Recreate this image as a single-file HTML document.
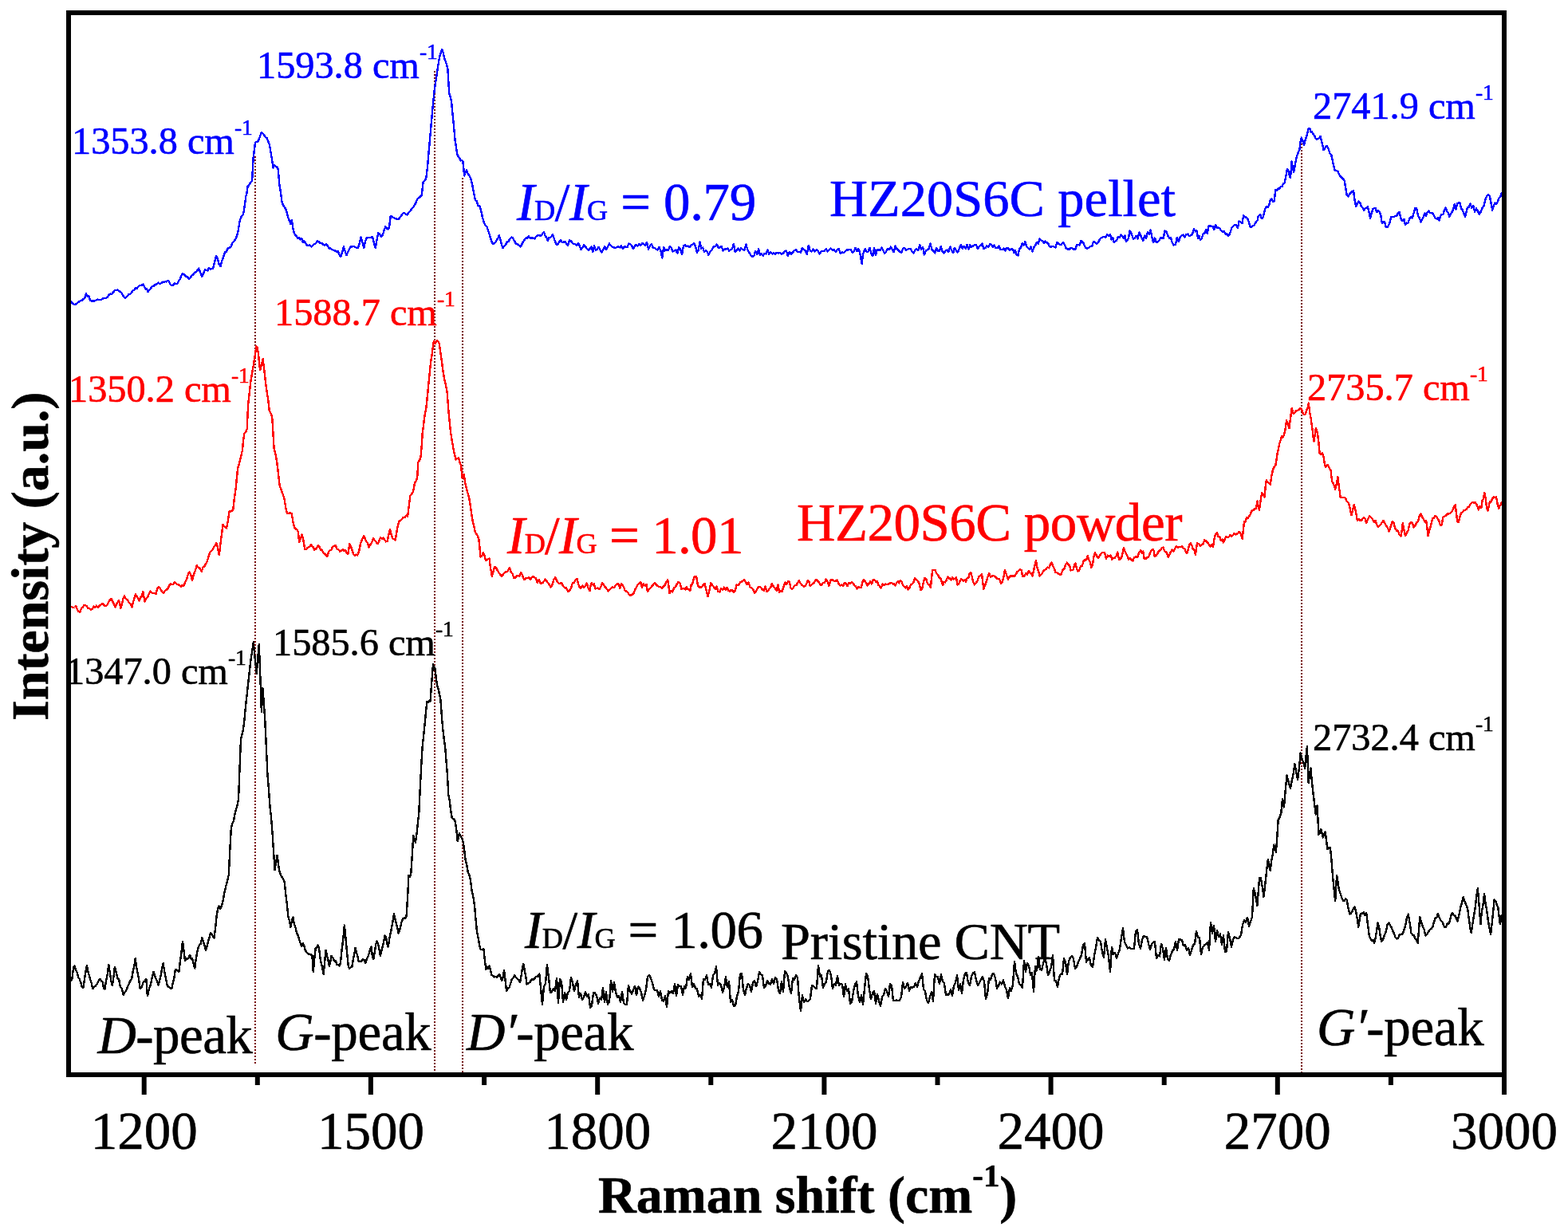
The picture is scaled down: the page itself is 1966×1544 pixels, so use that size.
<!DOCTYPE html>
<html><head><meta charset="utf-8"><title>Raman spectra</title>
<style>html,body{margin:0;padding:0;background:#fff;overflow:hidden}svg{display:block}text{stroke-width:0.6px;stroke-linejoin:round}</style>
</head><body>
<svg width="1966" height="1544" viewBox="0 0 1966 1544" font-family='"Liberation Serif", "Times New Roman", serif'>
<rect width="1966" height="1544" fill="#fff"/>
<line x1="320" y1="196" x2="320" y2="1334" stroke="#780000" stroke-width="2" stroke-dasharray="2 2"/>
<line x1="545" y1="89" x2="545" y2="1346" stroke="#780000" stroke-width="2" stroke-dasharray="2 2"/>
<line x1="580" y1="223" x2="580" y2="1346" stroke="#780000" stroke-width="2" stroke-dasharray="2 2"/>
<line x1="1632" y1="180" x2="1632" y2="1346" stroke="#780000" stroke-width="2" stroke-dasharray="2 2"/>
<polyline fill="none" stroke="#0000ff" stroke-width="2.4" stroke-linejoin="round" shape-rendering="crispEdges" points="87.6,377.7 89.5,378.7 91.4,381.0 93.4,381.8 95.3,381.6 97.1,379.8 98.9,378.7 100.8,377.2 102.6,377.0 104.4,375.1 106.2,373.9 107.8,368.4 109.5,371.5 111.3,371.2 113.0,376.9 114.8,377.7 116.8,377.2 118.8,377.5 120.7,376.3 122.7,375.6 124.7,376.0 126.7,375.9 128.6,374.5 130.6,374.1 132.6,373.8 134.4,373.2 136.3,370.4 138.2,368.5 140.0,369.1 141.8,366.8 143.7,364.3 145.6,364.1 147.4,363.7 149.1,364.9 150.8,365.9 152.4,367.3 154.1,370.5 155.8,373.0 157.5,373.8 159.3,371.8 161.1,369.5 162.9,368.9 164.6,367.4 166.4,364.6 168.2,363.7 170.0,361.4 171.9,361.5 173.7,359.3 175.6,357.8 177.4,358.0 179.3,356.7 180.9,359.3 182.4,362.4 183.9,362.4 185.5,366.0 187.4,363.5 189.2,361.4 191.1,358.7 192.9,358.7 194.8,356.7 196.7,356.6 198.5,354.7 200.4,356.2 202.2,355.0 204.1,353.6 205.7,353.8 207.2,353.2 208.8,353.4 210.4,352.0 211.9,352.8 213.5,356.8 215.0,358.3 216.9,358.1 218.9,355.0 220.9,356.3 222.8,355.2 224.4,351.8 225.9,349.8 227.4,345.5 229.0,342.8 230.9,344.5 232.9,346.6 234.9,347.2 236.8,349.8 238.6,348.5 240.3,345.9 242.1,344.6 243.9,341.7 245.7,341.4 247.4,339.0 249.2,336.5 251.1,341.4 253.1,346.6 255.1,343.0 257.0,338.1 258.7,339.1 260.4,339.4 262.1,335.7 263.7,337.9 265.4,337.2 267.1,336.5 269.1,328.7 271.0,321.0 272.8,324.4 274.6,331.1 276.4,334.2 278.2,327.0 280.1,322.8 281.9,316.3 283.8,315.9 285.8,311.2 287.7,310.7 289.6,309.3 291.6,304.3 293.5,302.2 295.4,299.8 297.4,294.6 298.9,288.1 300.5,277.5 302.1,272.6 303.6,270.7 305.2,268.1 306.8,258.0 308.3,246.4 309.5,241.7 310.6,233.9 312.4,232.0 314.3,228.6 316.1,227.0 317.6,198.2 318.8,188.8 320.0,178.8 321.9,178.0 323.8,177.2 325.8,171.5 327.7,166.3 329.6,167.5 331.6,170.2 333.1,172.1 334.7,173.3 336.2,177.5 337.8,181.1 339.4,190.3 341.0,199.7 342.5,210.6 344.0,207.5 345.6,208.8 347.1,209.3 348.7,212.2 350.3,230.8 351.9,241.2 353.4,252.6 354.9,257.3 356.5,259.4 358.1,261.7 359.6,266.6 361.2,272.6 362.7,276.5 364.3,280.6 365.8,275.9 367.4,286.6 368.9,293.0 370.5,295.1 372.0,296.7 373.6,299.2 375.1,297.8 376.7,300.5 378.2,299.2 379.8,303.7 381.4,302.3 382.9,304.4 384.5,307.0 386.1,308.2 387.7,307.4 389.3,308.5 390.9,309.4 392.7,307.2 394.5,305.9 396.3,305.0 398.1,302.1 399.9,303.2 401.7,305.2 403.6,305.0 405.4,306.8 407.2,307.6 409.0,306.5 410.8,308.3 412.7,311.6 414.5,311.3 416.3,313.0 418.1,314.0 419.9,314.4 421.7,315.7 423.5,314.8 425.4,319.3 427.2,322.1 429.0,316.8 430.8,309.4 432.6,314.7 434.4,320.3 436.2,316.0 438.1,312.3 439.9,309.4 441.7,309.3 443.5,309.0 445.3,309.9 447.1,310.7 448.9,311.2 450.8,304.7 452.6,297.6 454.4,304.1 456.2,311.2 458.0,302.9 459.8,298.5 461.6,298.0 463.4,297.8 465.2,298.2 467.0,296.7 468.9,304.5 470.7,311.2 472.5,301.1 474.3,292.2 476.1,293.7 478.0,296.7 479.8,294.5 481.6,289.0 483.4,284.0 484.9,286.4 486.4,287.3 487.9,285.8 489.7,271.3 491.4,271.1 493.0,272.9 494.7,273.6 496.4,274.3 498.0,274.8 499.7,274.9 501.5,272.7 503.4,270.3 505.2,267.7 507.0,266.8 508.8,268.7 510.6,269.5 512.4,266.5 514.2,265.1 516.1,262.2 517.9,260.4 519.7,257.4 521.5,254.0 523.3,249.5 525.1,248.3 526.9,246.8 528.7,245.0 530.6,228.7 532.4,226.5 534.2,224.1 536.0,209.6 537.8,188.3 539.6,167.9 541.0,152.3 542.3,137.1 543.7,123.0 545.1,109.9 546.9,98.5 548.7,86.3 550.0,78.2 551.4,70.0 552.8,66.5 554.1,61.8 555.6,65.6 557.2,73.0 558.7,77.2 560.0,81.0 561.4,86.3 563.2,117.1 564.5,120.9 565.9,126.2 567.2,139.6 568.6,153.4 570.5,175.2 571.9,183.7 573.2,193.3 574.7,196.3 576.2,198.2 577.7,201.5 579.0,200.9 580.4,202.4 582.2,220.5 583.6,216.1 585.0,213.3 586.8,218.2 588.6,220.5 590.4,224.1 592.2,232.0 594.1,242.2 595.9,251.3 597.7,252.2 599.5,258.0 601.3,258.6 603.1,263.7 604.9,272.3 606.7,278.5 608.5,282.7 610.4,284.3 612.2,289.4 614.0,295.2 615.8,301.3 617.6,305.8 619.5,305.4 621.3,304.0 622.8,301.2 624.3,298.9 625.8,294.9 627.3,300.5 628.8,306.1 630.3,311.2 632.1,308.8 633.9,307.3 635.8,303.5 637.6,302.9 639.4,299.4 641.2,297.6 643.0,298.5 644.8,301.9 646.7,305.2 648.5,306.4 650.3,306.9 652.1,309.4 653.9,307.4 655.7,303.5 657.5,301.1 659.3,298.5 661.1,298.7 662.9,296.5 664.8,299.1 666.6,298.1 668.4,298.6 670.2,299.4 671.9,296.8 673.6,295.6 675.3,295.0 677.1,295.7 678.8,295.4 680.5,292.5 682.2,291.4 683.7,296.0 685.3,298.2 686.8,302.0 688.3,298.2 689.8,298.3 691.4,296.7 692.9,294.4 694.4,298.0 696.0,302.8 697.5,306.6 699.3,306.7 701.2,303.3 703.0,301.1 704.8,304.1 706.6,303.7 708.5,302.9 710.3,306.1 712.1,307.8 714.0,301.3 715.8,302.0 717.6,304.7 719.5,306.2 721.3,306.3 723.1,308.0 725.0,304.8 726.8,308.7 728.6,313.1 730.4,310.4 732.3,307.2 734.1,309.7 735.9,311.8 737.8,314.0 739.6,311.9 741.4,309.6 743.2,315.9 745.1,308.5 746.9,313.8 748.7,312.7 750.6,309.8 752.4,313.5 754.3,316.4 756.2,313.5 758.1,308.8 760.0,313.3 762.0,309.9 763.9,305.3 765.8,308.2 767.7,309.7 769.6,310.3 771.5,311.2 773.3,309.8 775.2,309.4 777.1,310.4 779.0,308.4 780.8,312.2 782.7,309.2 784.6,309.5 786.5,310.1 788.3,305.5 790.2,306.3 792.1,308.2 794.0,312.3 795.9,308.7 797.8,306.8 799.7,308.4 801.6,305.9 803.5,307.8 805.4,304.9 807.3,306.6 809.2,308.1 811.1,303.7 813.0,312.6 815.0,308.2 816.9,306.0 818.8,310.5 820.7,310.9 822.6,312.7 824.5,313.3 826.4,309.8 828.3,314.2 830.2,323.4 832.1,309.8 834.0,314.4 836.0,312.8 837.9,314.3 839.8,308.8 841.7,310.8 843.6,315.5 845.5,314.3 847.4,313.6 849.3,317.6 851.2,310.4 853.1,312.2 855.0,319.2 857.0,308.3 858.9,307.3 860.8,309.1 862.7,308.4 864.6,310.2 866.5,307.6 868.4,306.6 870.2,305.4 872.1,309.0 873.9,316.7 875.7,313.8 877.5,303.4 879.4,311.7 881.2,310.6 883.0,315.7 884.9,314.4 886.7,315.8 888.4,319.9 890.2,315.8 891.9,314.4 893.7,311.1 895.4,309.1 897.2,308.9 898.9,306.6 900.8,311.3 902.7,310.2 904.6,308.8 906.5,314.4 908.5,312.4 910.4,312.7 912.3,311.7 914.2,315.0 916.1,312.9 918.0,312.3 919.9,305.8 921.8,315.9 923.7,314.2 925.6,311.6 927.5,314.6 929.4,311.2 931.4,313.2 933.4,313.8 935.4,306.6 937.4,313.6 939.3,316.5 941.3,320.3 943.3,321.7 945.3,321.3 947.3,314.8 949.3,318.8 951.2,312.5 953.1,320.1 954.9,318.5 956.8,320.9 958.7,317.8 960.6,318.6 962.5,313.6 964.4,319.0 966.2,316.3 968.1,318.4 970.0,317.3 972.0,318.5 974.0,316.7 976.0,317.8 978.0,316.7 980.0,318.8 981.9,317.9 983.9,314.9 985.9,314.6 987.9,321.0 989.9,315.7 991.9,318.6 993.9,316.8 995.9,314.0 997.9,313.4 999.9,315.7 1001.9,315.9 1003.9,316.8 1005.8,311.4 1007.8,313.2 1009.8,314.4 1011.8,319.0 1013.8,307.8 1015.8,314.3 1017.8,315.5 1019.8,312.7 1021.8,315.4 1023.8,312.8 1025.8,315.1 1027.7,318.5 1029.7,315.0 1031.7,315.2 1033.7,315.0 1035.7,311.9 1037.7,315.4 1039.7,313.3 1041.7,311.6 1043.7,313.7 1045.7,313.1 1047.7,315.9 1049.7,313.6 1051.6,312.2 1053.6,317.7 1055.6,316.4 1057.6,317.1 1059.6,315.2 1061.6,313.5 1063.4,313.5 1065.2,312.9 1067.1,313.6 1068.9,317.3 1070.7,315.2 1072.5,311.0 1074.4,315.3 1076.2,311.8 1078.0,316.0 1079.3,324.0 1080.6,331.0 1081.8,320.1 1083.0,316.0 1084.9,312.3 1086.7,316.1 1088.6,315.4 1090.5,310.8 1092.3,317.4 1094.2,321.3 1096.1,310.9 1098.0,320.0 1099.8,312.9 1101.7,313.3 1103.6,314.1 1105.4,310.4 1107.3,314.3 1109.2,317.8 1111.1,315.5 1113.0,311.9 1115.0,313.1 1116.9,309.6 1118.8,312.7 1120.7,316.2 1122.6,308.7 1124.5,312.2 1126.4,313.7 1128.3,316.1 1130.2,316.9 1132.2,311.7 1134.1,310.8 1136.0,314.1 1137.9,312.7 1139.8,311.7 1141.7,311.8 1143.6,315.7 1145.5,317.4 1147.4,313.4 1149.3,312.2 1151.2,314.3 1153.2,307.4 1155.1,312.6 1157.0,309.7 1158.9,319.4 1160.8,314.7 1162.7,313.1 1164.6,312.2 1166.5,305.7 1168.4,312.7 1170.3,314.8 1172.2,317.5 1174.1,311.0 1176.0,315.0 1177.9,315.2 1179.8,309.0 1181.7,316.0 1183.7,317.3 1185.6,314.2 1187.5,313.5 1189.4,316.0 1191.3,309.6 1193.2,314.3 1195.1,317.1 1197.0,310.7 1198.9,314.3 1200.8,316.5 1202.8,312.0 1204.7,306.8 1206.7,311.8 1208.6,308.8 1210.6,311.9 1212.5,307.1 1214.5,312.8 1216.4,307.2 1218.4,309.8 1220.3,308.2 1222.2,306.7 1224.1,307.5 1225.9,311.9 1227.8,309.3 1229.7,307.7 1231.6,305.4 1233.4,312.3 1235.3,311.2 1237.2,308.3 1239.1,310.0 1240.9,306.6 1242.8,306.7 1244.7,309.7 1246.6,307.6 1248.6,311.1 1250.5,311.2 1252.5,308.5 1254.4,312.9 1256.4,313.2 1258.3,311.7 1260.3,314.4 1262.2,310.9 1264.2,311.6 1266.1,313.5 1268.1,312.3 1270.0,312.6 1271.5,316.9 1273.1,314.0 1274.6,319.4 1276.4,320.3 1278.2,312.1 1279.9,311.0 1281.7,305.3 1283.5,307.6 1285.3,303.4 1287.1,309.0 1288.9,311.0 1290.8,312.8 1292.6,309.3 1294.4,315.6 1296.2,310.4 1298.1,308.0 1299.9,303.7 1301.8,305.6 1303.6,299.6 1305.3,301.4 1307.1,302.2 1308.8,304.8 1310.6,302.5 1312.3,303.9 1314.1,305.3 1315.8,308.8 1317.7,309.8 1319.6,309.1 1321.5,309.4 1323.4,310.3 1325.3,304.0 1327.2,305.7 1329.1,307.2 1331.0,306.5 1332.9,303.9 1334.8,306.7 1336.7,311.3 1338.7,312.3 1340.6,313.0 1342.5,311.2 1344.4,311.3 1346.3,312.6 1348.1,313.2 1350.0,307.4 1351.8,307.0 1353.7,307.4 1355.5,301.9 1357.0,303.3 1358.5,304.9 1360.1,308.7 1361.6,311.0 1363.5,311.6 1365.4,310.5 1367.3,308.8 1369.2,309.0 1371.1,302.8 1373.0,303.8 1374.9,305.5 1376.8,304.2 1378.7,300.6 1380.6,298.4 1382.5,297.5 1384.4,297.0 1386.4,297.6 1388.3,294.2 1390.2,296.1 1392.1,294.3 1393.6,300.6 1395.2,298.1 1396.7,303.7 1398.2,302.6 1400.0,302.0 1401.8,297.1 1403.7,297.9 1405.5,294.7 1407.3,295.8 1408.8,299.0 1410.3,295.6 1411.9,303.1 1413.4,301.1 1414.9,299.2 1416.5,289.4 1418.0,291.2 1419.5,295.7 1421.1,300.1 1422.6,298.8 1424.5,295.9 1426.4,299.4 1428.3,291.5 1430.2,295.0 1431.8,299.1 1433.3,301.9 1435.2,295.6 1437.1,298.9 1439.0,291.1 1440.9,293.5 1442.7,288.6 1444.5,297.8 1446.2,304.2 1448.0,298.6 1449.8,303.8 1451.6,303.4 1453.4,301.5 1455.2,298.3 1456.9,298.4 1458.7,298.8 1460.5,289.5 1462.3,290.4 1464.2,295.4 1466.1,298.5 1468.0,297.7 1469.9,304.9 1471.9,307.4 1473.8,306.7 1475.8,298.0 1477.7,303.2 1479.7,297.5 1481.6,295.4 1483.6,294.3 1485.5,297.6 1487.4,293.9 1489.3,293.6 1491.2,296.1 1493.2,295.1 1495.1,293.6 1497.0,287.4 1498.9,290.4 1500.4,289.1 1502.0,298.6 1503.5,296.1 1505.0,301.1 1506.7,299.0 1508.5,293.4 1510.2,293.1 1512.0,287.9 1513.7,292.7 1515.5,283.6 1517.2,283.6 1518.9,283.7 1520.7,284.0 1522.4,287.9 1524.2,281.8 1525.9,285.7 1527.7,285.6 1529.4,286.6 1531.2,289.5 1533.0,290.8 1534.8,290.0 1536.5,293.3 1538.3,293.3 1540.1,295.8 1541.6,293.9 1543.2,289.4 1544.7,285.0 1546.2,283.6 1548.1,282.3 1549.9,282.1 1551.8,285.7 1553.7,277.6 1555.5,278.4 1557.4,280.1 1559.3,270.1 1561.1,272.3 1563.0,272.9 1564.5,274.8 1566.0,278.9 1567.6,284.5 1569.1,285.1 1570.9,283.4 1572.8,282.1 1574.7,278.6 1576.5,276.7 1577.8,271.0 1579.0,270.2 1580.3,269.3 1581.7,274.0 1583.0,274.3 1584.7,268.4 1586.3,262.1 1587.9,259.2 1589.6,260.0 1591.2,257.2 1592.8,250.7 1594.4,249.7 1596.1,252.9 1597.7,252.3 1599.3,237.7 1600.9,238.9 1602.6,236.3 1604.2,236.8 1605.8,233.9 1607.5,234.0 1609.1,230.2 1610.7,229.5 1612.3,221.4 1614.0,211.6 1615.3,214.2 1616.7,220.0 1618.0,223.0 1619.6,202.7 1620.8,209.3 1622.1,215.7 1623.5,208.5 1624.8,201.2 1626.2,195.3 1627.8,191.5 1629.4,187.2 1630.6,178.0 1631.8,172.6 1633.4,176.8 1635.1,181.5 1637.0,174.3 1638.9,168.6 1640.8,161.2 1642.2,161.3 1643.5,165.6 1644.9,165.2 1646.5,167.9 1648.2,170.1 1649.8,174.2 1651.7,174.5 1653.5,173.7 1655.4,170.9 1656.8,176.4 1658.1,181.4 1659.5,188.0 1660.9,186.4 1662.2,184.0 1663.6,183.1 1665.5,186.6 1667.4,192.3 1669.3,194.5 1670.7,201.1 1672.0,207.1 1673.4,213.2 1674.7,214.1 1676.1,214.3 1677.4,214.9 1679.0,218.4 1680.7,221.2 1682.3,223.0 1683.9,224.3 1685.6,226.3 1687.2,235.8 1688.8,245.0 1690.4,246.3 1692.1,243.2 1693.7,241.7 1695.3,240.3 1697.0,239.3 1698.6,251.1 1700.2,258.8 1701.8,255.6 1703.5,252.3 1705.1,254.1 1706.8,258.7 1708.4,260.0 1710.0,263.7 1711.6,261.6 1713.3,260.8 1714.9,258.8 1716.5,266.0 1718.1,273.5 1719.8,267.0 1721.4,262.1 1723.0,261.1 1724.7,261.4 1726.3,266.2 1727.9,263.7 1729.5,265.5 1731.2,269.6 1732.8,279.7 1734.4,278.3 1736.0,278.1 1737.7,284.5 1739.3,285.3 1740.9,283.2 1742.5,279.0 1744.2,272.1 1745.8,271.8 1747.6,271.8 1749.4,271.2 1751.1,270.8 1752.9,267.4 1754.7,266.1 1756.1,272.6 1757.4,276.6 1758.8,276.7 1760.4,274.9 1762.0,281.9 1763.7,279.6 1765.3,280.0 1767.1,274.8 1768.9,271.7 1770.7,273.5 1772.5,267.5 1774.3,261.3 1776.1,261.1 1777.9,270.0 1779.8,273.7 1781.6,278.3 1783.2,275.4 1784.8,272.1 1786.5,267.3 1788.1,270.7 1789.7,266.1 1791.3,264.6 1793.0,266.8 1794.6,267.1 1796.3,267.6 1797.9,270.2 1799.5,273.7 1801.2,274.4 1802.8,273.4 1804.4,276.7 1806.0,271.1 1807.6,269.0 1809.3,269.3 1810.9,264.0 1812.5,260.4 1814.1,264.8 1815.8,267.2 1817.4,271.8 1819.0,267.9 1820.7,265.9 1822.3,262.1 1823.9,255.9 1825.5,262.9 1827.2,255.2 1828.8,254.1 1830.4,253.9 1832.0,261.7 1833.7,263.4 1835.3,267.4 1836.9,271.8 1838.5,266.3 1840.2,259.8 1841.8,260.1 1843.4,255.6 1845.3,260.8 1847.2,257.7 1849.1,265.5 1851.0,261.4 1852.9,264.6 1854.8,268.6 1856.7,265.8 1858.6,260.5 1860.5,258.1 1862.4,250.5 1864.3,245.7 1866.2,244.2 1867.8,246.0 1869.5,254.2 1871.1,263.7 1872.7,258.3 1874.4,254.7 1876.0,255.6 1877.6,253.6 1879.3,248.5 1880.9,247.4 1882.5,242.7 1884.0,248.0"/>
<polyline fill="none" stroke="#ff0000" stroke-width="2.4" stroke-linejoin="round" shape-rendering="crispEdges" points="88.3,761.5 90.0,761.2 91.8,762.2 93.5,761.5 95.3,760.3 97.0,764.7 98.8,767.3 100.4,767.6 102.1,762.6 103.7,761.7 105.4,759.2 107.0,759.2 108.8,760.4 110.5,763.0 112.2,763.1 114.0,764.5 115.8,764.1 117.5,760.3 119.2,761.8 121.0,759.6 122.8,761.8 124.5,759.8 126.2,758.9 128.0,756.8 129.5,757.9 131.1,759.9 132.6,760.3 134.3,758.8 136.1,755.2 137.8,752.7 139.6,751.0 141.2,754.4 142.7,757.3 144.3,761.5 145.9,758.1 147.4,755.7 149.0,753.3 150.2,757.1 151.3,762.6 152.8,758.5 154.4,750.6 155.9,747.5 157.8,751.3 159.7,752.3 161.5,755.2 163.4,757.1 165.3,761.5 166.8,755.9 168.4,750.3 169.9,745.2 171.5,748.1 173.0,750.0 174.6,753.3 176.1,749.5 177.7,747.8 179.2,741.7 180.4,748.6 181.6,754.5 183.3,750.6 185.1,749.2 186.8,744.7 188.6,741.7 190.3,743.3 192.1,744.2 193.8,743.9 195.6,745.2 197.3,738.2 199.1,735.9 201.0,738.2 203.0,742.0 204.9,744.0 206.8,741.2 208.6,739.8 210.5,738.2 212.3,734.0 214.2,732.3 215.8,733.0 217.3,732.7 218.9,730.0 220.8,732.1 222.8,733.0 224.7,733.7 226.6,735.8 228.6,734.1 230.5,734.7 232.2,730.3 234.0,726.7 235.8,720.5 237.5,717.2 239.2,720.6 241.0,727.7 242.9,720.4 244.9,715.7 246.8,709.0 248.8,712.3 250.7,712.6 252.7,717.2 254.4,711.7 256.2,710.4 257.9,707.4 259.7,704.4 261.4,698.5 263.2,692.7 264.8,691.2 266.4,689.5 268.1,686.0 269.7,684.2 271.3,681.1 273.1,687.3 274.8,696.2 276.4,682.0 277.9,670.9 279.5,657.8 281.0,660.1 282.6,661.7 284.1,662.4 285.9,652.6 287.6,641.4 289.2,641.6 290.7,640.8 292.3,639.1 294.1,623.0 295.8,611.1 297.0,598.6 298.1,587.8 300.1,580.6 302.0,573.0 304.0,564.5 305.1,552.2 306.3,543.5 308.1,542.0 309.8,537.7 311.0,508.6 312.7,492.9 314.4,478.3 316.0,468.7 317.5,460.0 319.1,450.3 320.2,443.0 321.4,434.0 322.6,436.3 323.8,442.1 325.0,454.4 326.1,464.3 327.9,457.4 329.6,450.3 331.4,464.5 333.1,480.6 334.7,491.9 336.2,501.3 337.8,515.6 339.5,518.3 341.2,522.6 342.4,542.6 343.6,562.2 345.4,569.5 347.1,578.5 348.9,593.3 350.6,608.8 352.5,614.1 354.5,619.7 356.4,625.1 358.1,635.7 359.9,643.8 361.8,643.8 363.8,643.5 365.7,643.8 366.9,651.4 368.1,657.8 370.0,663.4 372.0,663.6 373.9,667.1 375.1,679.9 376.8,675.9 378.5,670.6 380.4,677.7 382.2,688.6 384.1,688.8 386.0,686.6 388.0,686.1 389.9,683.1 391.4,685.2 392.8,686.2 394.3,689.7 395.8,688.9 397.2,686.9 398.7,684.2 400.4,685.9 402.0,689.7 403.6,689.6 405.3,693.5 407.0,694.4 408.6,696.3 410.3,697.7 412.1,692.1 413.8,690.5 415.5,689.3 417.2,685.7 419.0,684.9 420.7,684.2 422.6,688.7 424.4,689.2 426.3,691.9 427.9,690.6 429.6,689.3 431.2,690.9 432.9,689.7 434.5,693.2 436.2,695.2 437.3,688.9 438.4,682.0 440.2,686.3 442.1,691.9 443.9,696.3 445.4,696.8 446.8,695.5 448.3,696.3 450.2,691.0 452.1,681.7 454.1,676.6 456.0,672.1 457.6,675.3 459.3,679.1 461.0,681.4 462.6,686.4 464.4,683.1 466.3,680.3 468.1,675.4 469.9,678.1 471.8,680.1 473.6,682.0 475.2,679.1 476.9,674.3 478.7,675.7 480.4,674.7 482.2,676.7 483.9,679.4 485.7,678.7 487.4,670.2 489.0,664.4 490.6,670.0 492.3,675.4 494.0,676.0 495.6,677.6 497.1,668.8 498.5,661.0 500.0,654.5 501.9,652.8 503.7,651.2 505.6,649.0 507.4,649.0 509.3,646.5 511.1,647.9 512.8,634.4 514.4,621.5 516.0,619.7 517.7,617.1 518.8,612.7 519.9,606.0 521.5,603.5 523.2,599.4 524.3,579.6 526.0,577.3 527.6,573.0 528.7,558.9 529.8,542.2 530.9,534.3 532.0,524.5 533.1,518.0 534.2,513.5 535.3,502.6 536.4,491.5 537.5,479.6 538.6,469.5 540.2,453.4 541.9,443.0 543.0,433.3 544.1,427.6 545.9,430.5 547.8,427.0 549.6,428.7 550.7,431.0 551.8,438.6 553.5,450.0 555.1,462.9 556.9,474.3 558.8,481.9 560.6,491.5 561.7,506.3 562.8,520.1 563.9,530.8 565.0,542.2 566.1,548.7 567.2,555.4 568.7,563.9 570.1,570.3 571.6,576.3 573.2,575.1 574.9,574.1 576.5,580.1 578.2,584.0 579.3,599.4 580.4,598.5 581.5,595.0 582.6,601.3 583.7,608.2 585.2,613.7 586.6,618.8 588.1,623.7 589.8,634.4 591.5,646.8 593.0,655.1 594.4,660.5 595.9,667.7 597.4,669.9 598.8,671.6 600.3,676.5 601.4,686.0 602.5,698.5 604.1,697.6 605.8,693.0 607.5,696.6 609.1,703.0 610.6,702.7 612.0,701.0 613.5,700.7 615.1,712.4 616.8,722.8 618.5,717.5 620.1,710.7 621.9,711.7 623.6,715.0 625.4,718.1 627.1,720.6 628.9,722.8 630.9,720.5 632.9,717.8 634.8,717.3 636.8,716.4 638.8,711.8 640.6,717.2 642.5,719.3 644.3,725.0 646.1,724.4 647.8,722.5 649.6,721.9 651.3,723.0 653.1,718.4 654.6,720.9 656.0,724.2 657.5,727.2 659.3,724.9 661.2,725.2 663.0,724.0 664.8,727.1 666.7,724.1 668.5,722.8 670.0,724.4 671.9,725.1 673.8,731.3 675.7,727.2 677.6,731.3 679.1,731.7 680.7,730.8 682.2,728.9 683.7,726.7 685.4,728.7 687.2,731.4 688.9,733.5 690.6,736.6 692.5,733.1 694.4,726.7 696.4,724.0 698.3,728.8 700.3,731.6 702.3,731.8 704.3,731.1 706.2,735.4 708.2,737.4 709.7,736.8 711.2,740.3 712.8,742.2 714.3,740.4 716.1,737.6 717.9,731.1 719.8,731.3 721.6,727.1 723.4,725.9 725.0,732.1 726.5,735.9 728.3,738.0 730.1,734.6 732.0,736.8 733.8,734.9 735.6,731.3 737.5,737.5 739.4,741.2 740.5,734.7 741.7,731.3 743.2,733.4 744.8,732.3 746.3,738.5 747.8,738.2 749.6,737.7 751.5,739.1 753.3,736.2 755.2,731.3 757.0,733.6 758.9,736.5 760.8,738.6 762.7,741.4 764.6,739.7 766.4,737.3 768.2,736.4 770.0,737.2 771.9,734.2 773.7,732.7 775.5,732.2 777.3,737.9 779.1,732.0 780.6,734.2 782.2,736.5 783.7,741.2 785.5,741.5 787.3,743.2 789.2,746.5 791.0,746.8 792.8,745.8 794.5,744.2 796.2,739.6 798.0,736.5 799.7,732.8 801.5,731.8 803.3,730.3 805.0,736.7 806.8,732.2 808.6,734.8 810.4,732.8 811.9,742.0 813.8,739.3 815.7,737.4 817.6,735.0 819.5,732.8 821.3,730.9 823.0,733.7 824.8,735.0 826.5,736.2 828.3,736.1 830.0,737.5 831.8,735.9 833.6,733.8 835.3,730.5 837.1,727.5 838.2,732.5 839.4,744.3 841.3,741.1 843.2,742.4 845.1,737.4 847.0,736.2 848.9,732.0 850.8,729.8 852.6,731.5 854.4,739.2 856.2,738.2 857.7,738.2 859.3,739.5 860.8,735.9 862.3,738.8 863.8,739.1 865.3,741.2 866.8,732.7 868.3,732.4 869.9,724.8 871.4,722.9 873.2,723.6 875.0,734.4 876.8,736.6 878.5,736.9 880.2,735.6 881.9,733.4 883.6,732.0 885.5,740.1 887.5,748.1 889.4,740.6 891.3,731.3 893.1,733.9 894.9,735.9 896.8,739.2 898.6,735.6 900.4,742.0 902.3,742.4 904.2,738.3 906.1,739.6 908.0,736.6 909.8,739.7 911.5,737.0 913.3,740.8 915.0,741.6 916.8,739.8 918.5,740.9 920.3,742.7 922.0,740.4 923.7,733.6 925.3,734.2 927.0,732.7 928.7,729.8 930.7,729.2 932.7,727.2 934.6,729.5 936.6,733.1 938.6,730.5 940.5,736.4 942.4,737.2 944.3,739.4 946.2,744.3 947.7,741.7 949.3,739.2 950.8,736.6 952.5,736.0 954.3,737.3 956.0,739.7 957.8,740.9 959.5,735.5 961.3,742.3 963.0,741.2 964.5,738.4 966.1,737.1 967.6,732.0 968.8,733.9 970.0,735.8 971.8,737.6 973.6,740.8 975.4,733.5 977.1,742.7 978.9,741.2 980.7,741.9 982.6,735.4 984.5,730.6 986.4,732.7 988.3,728.9 989.8,730.4 991.4,737.3 992.9,738.8 994.7,737.1 996.5,734.3 998.4,734.2 1000.2,730.7 1002.0,728.2 1003.5,731.4 1005.1,733.5 1006.7,734.5 1008.2,735.8 1009.7,734.7 1011.2,732.2 1012.7,728.2 1014.2,729.1 1015.8,735.0 1017.6,733.2 1019.4,732.1 1021.3,730.2 1023.1,726.7 1024.9,728.2 1026.8,730.2 1028.8,734.3 1030.5,733.0 1032.2,730.8 1033.9,731.3 1035.6,726.6 1037.5,729.7 1039.4,735.0 1040.6,730.4 1041.7,727.4 1043.7,727.2 1045.6,728.6 1047.6,728.9 1049.6,727.5 1051.6,732.4 1053.5,734.4 1055.5,733.5 1057.2,735.1 1059.0,730.7 1060.7,731.8 1062.5,735.1 1064.2,731.1 1066.0,731.5 1067.7,730.4 1069.4,731.1 1071.2,734.2 1072.9,735.1 1074.7,738.5 1076.4,736.2 1078.2,737.1 1079.9,737.3 1081.4,730.2 1082.9,727.4 1084.4,729.0 1086.0,730.7 1087.5,734.3 1089.3,732.3 1091.2,729.2 1093.0,732.4 1094.9,726.9 1096.7,727.4 1098.2,729.8 1099.8,728.9 1101.3,733.7 1102.8,735.0 1104.8,737.4 1106.7,732.4 1108.7,734.0 1110.6,732.7 1112.6,732.8 1114.5,732.5 1116.5,731.2 1118.0,730.8 1119.5,732.4 1121.1,732.5 1122.6,734.3 1124.1,731.3 1125.7,729.0 1127.2,731.5 1128.7,728.2 1130.5,729.4 1132.2,734.5 1134.0,735.8 1135.5,737.4 1137.1,735.2 1138.7,739.4 1140.2,738.1 1141.9,733.3 1143.6,732.7 1145.3,731.0 1147.0,725.1 1148.8,726.6 1150.7,728.9 1152.5,731.6 1154.4,740.2 1156.2,738.8 1157.7,731.3 1159.2,725.1 1161.1,725.7 1163.1,732.3 1165.0,733.3 1166.9,736.5 1168.0,725.8 1169.1,715.2 1170.8,715.2 1172.5,714.8 1174.1,719.3 1175.8,720.6 1177.5,724.3 1179.0,724.7 1180.6,729.0 1182.1,734.3 1183.6,729.9 1185.2,730.4 1186.7,727.5 1188.2,723.6 1189.7,725.8 1191.3,725.2 1192.8,727.4 1194.3,724.3 1195.9,726.4 1197.5,725.9 1199.0,724.3 1200.4,733.5 1201.9,733.0 1203.5,728.8 1205.0,726.6 1206.5,727.1 1208.0,728.7 1209.6,727.2 1211.1,729.7 1212.6,725.4 1214.2,725.1 1215.7,718.8 1217.2,718.2 1218.7,723.1 1220.3,729.8 1221.8,733.5 1223.6,731.2 1225.5,728.8 1227.3,723.3 1229.2,722.3 1231.0,719.8 1232.1,728.8 1233.2,738.8 1234.9,734.9 1236.7,729.7 1238.4,724.0 1240.1,719.0 1241.9,723.6 1243.8,722.4 1245.6,722.2 1247.5,722.8 1249.3,725.1 1251.2,726.2 1253.1,726.4 1255.0,731.5 1256.9,729.7 1258.4,723.5 1259.9,715.2 1261.8,720.4 1263.8,726.6 1265.3,724.3 1266.9,722.4 1268.5,722.7 1270.0,722.0 1271.8,722.8 1273.7,720.4 1275.5,717.1 1277.4,715.9 1279.2,714.0 1280.7,715.3 1282.2,723.2 1284.1,722.9 1286.0,719.4 1287.9,720.6 1289.8,716.3 1291.3,718.1 1292.9,719.5 1294.4,722.4 1295.9,716.5 1297.5,708.6 1299.0,703.3 1300.5,712.1 1302.1,716.6 1303.6,722.4 1305.1,721.2 1306.7,719.3 1308.2,716.1 1309.7,714.8 1311.5,713.9 1313.3,711.5 1315.2,712.5 1317.0,707.6 1318.8,705.6 1320.3,710.4 1321.9,713.0 1323.4,717.8 1325.2,718.3 1327.0,719.4 1328.8,720.9 1330.6,720.3 1332.4,715.1 1334.3,713.6 1336.1,708.3 1337.9,705.6 1339.4,708.4 1341.0,708.9 1342.5,715.5 1344.0,714.9 1345.5,714.8 1347.1,708.4 1348.6,706.4 1350.1,714.1 1351.6,716.3 1353.3,715.3 1355.1,709.8 1356.8,709.7 1358.6,703.9 1360.3,702.3 1362.1,702.3 1363.8,697.2 1365.3,702.5 1366.9,704.9 1368.4,711.7 1369.9,708.3 1371.5,697.7 1373.0,693.4 1374.9,696.7 1376.8,700.3 1378.3,697.6 1379.9,695.6 1381.4,693.4 1383.3,693.2 1385.1,693.0 1387.0,700.5 1388.8,696.7 1390.7,698.0 1392.5,696.4 1394.4,701.8 1396.1,699.8 1397.8,699.7 1399.5,697.6 1401.2,692.6 1403.1,702.0 1405.0,701.0 1407.0,697.0 1408.9,687.3 1410.4,691.5 1411.9,694.1 1413.4,697.2 1415.1,701.5 1416.8,700.4 1418.6,702.3 1420.3,703.3 1422.3,699.2 1424.3,698.5 1426.2,699.3 1428.2,693.0 1430.2,690.4 1431.7,694.0 1433.2,691.6 1434.8,701.0 1436.3,701.0 1438.1,699.4 1440.0,698.8 1441.8,694.3 1443.7,689.9 1445.5,688.8 1446.7,691.1 1447.8,698.0 1449.6,697.1 1451.4,694.3 1453.2,690.6 1454.9,690.3 1456.7,687.4 1458.5,686.5 1460.0,691.0 1461.5,692.0 1463.1,693.6 1464.6,698.8 1466.4,695.6 1468.1,691.7 1469.9,689.6 1471.6,691.6 1473.4,687.5 1475.1,685.3 1476.9,686.9 1478.6,685.8 1480.4,686.1 1482.1,685.0 1483.6,687.7 1485.2,687.7 1486.7,691.8 1488.2,694.2 1489.7,689.6 1491.3,683.3 1492.8,681.2 1494.3,683.7 1495.8,688.7 1497.4,689.1 1498.9,695.7 1500.1,686.4 1501.2,681.2 1503.1,682.2 1505.0,685.0 1506.7,683.0 1508.5,682.4 1510.2,677.3 1511.9,678.2 1513.7,680.1 1515.5,682.2 1517.4,685.4 1519.2,683.4 1521.0,685.8 1522.5,676.0 1524.1,669.8 1525.9,668.2 1527.6,673.2 1529.4,673.6 1530.9,678.0 1532.5,676.7 1534.0,680.4 1535.5,677.3 1537.1,672.8 1538.8,673.9 1540.6,673.7 1542.3,671.0 1544.1,672.6 1545.8,671.0 1547.6,669.1 1549.3,670.5 1550.8,669.7 1552.3,668.7 1553.8,666.8 1555.7,669.6 1557.6,675.9 1558.8,665.6 1560.0,653.7 1561.5,654.6 1563.0,648.9 1564.5,650.0 1566.0,647.6 1567.3,646.2 1568.7,642.6 1570.0,640.0 1571.6,639.8 1573.3,638.4 1574.9,638.1 1576.5,628.3 1577.8,635.6 1579.0,639.7 1580.6,627.6 1582.2,617.8 1583.8,620.5 1585.5,623.5 1586.7,610.6 1587.9,602.3 1589.5,604.6 1591.2,606.5 1592.8,608.0 1594.4,596.6 1596.0,589.3 1597.7,585.4 1599.3,583.6 1600.5,576.4 1601.7,568.1 1603.1,562.0 1604.4,555.7 1605.8,551.8 1607.2,546.9 1608.5,548.4 1609.9,546.2 1611.5,539.1 1613.1,527.4 1614.8,531.7 1616.4,537.2 1618.0,525.1 1619.6,512.0 1620.8,516.1 1622.1,519.3 1623.7,517.1 1625.3,515.2 1626.9,514.7 1628.5,514.1 1630.2,512.3 1631.8,512.8 1633.4,517.9 1635.1,520.3 1636.7,519.3 1638.1,515.0 1639.4,512.2 1640.8,505.5 1642.4,518.5 1643.7,525.2 1644.9,533.9 1646.1,543.4 1647.3,553.5 1648.5,546.6 1649.8,537.2 1651.0,539.8 1652.2,545.3 1653.4,555.1 1654.6,568.1 1656.2,569.8 1657.9,568.4 1659.5,572.2 1660.8,581.1 1662.0,586.0 1663.2,585.2 1664.4,582.8 1665.8,585.2 1667.1,587.9 1668.5,589.3 1670.1,603.9 1671.5,606.0 1672.8,609.3 1674.2,613.7 1675.8,606.9 1677.4,598.2 1679.1,612.0 1680.7,623.5 1682.3,624.1 1684.0,624.2 1685.6,624.0 1687.2,625.1 1688.8,629.2 1690.4,630.0 1691.8,633.6 1693.1,639.8 1694.5,646.2 1696.2,639.0 1697.8,633.2 1699.1,637.9 1700.5,644.7 1701.8,652.8 1703.4,650.9 1705.1,652.7 1706.7,653.0 1708.4,650.6 1710.0,649.5 1711.6,650.8 1713.2,656.0 1714.6,652.3 1715.9,649.9 1717.3,647.1 1719.1,649.1 1720.8,651.0 1722.6,654.9 1724.4,652.8 1726.1,657.6 1727.9,660.9 1729.5,659.3 1731.2,658.1 1732.8,655.3 1734.4,652.8 1736.2,656.3 1738.1,659.5 1739.9,662.0 1741.7,666.6 1743.1,662.7 1744.4,658.1 1745.8,654.4 1747.6,656.2 1749.3,662.6 1751.1,665.5 1752.9,665.7 1754.6,670.5 1756.4,672.3 1757.6,666.4 1758.8,656.0 1760.4,664.7 1762.1,672.3 1763.9,668.3 1765.8,664.7 1767.6,656.6 1769.4,655.2 1771.0,656.0 1772.6,661.7 1774.4,659.3 1776.2,655.4 1778.0,654.0 1779.8,647.2 1781.6,644.6 1783.2,648.7 1784.8,650.7 1786.5,654.4 1788.1,652.8 1789.3,661.2 1790.5,672.3 1792.4,664.4 1794.3,658.2 1796.2,650.3 1797.8,650.1 1799.5,647.0 1801.1,647.9 1802.7,650.8 1804.4,653.2 1806.0,659.3 1807.7,658.2 1809.3,648.7 1811.2,647.5 1813.2,646.5 1815.1,644.3 1817.1,644.3 1819.0,643.0 1820.9,641.2 1822.8,636.0 1824.7,633.2 1826.0,643.8 1827.2,654.4 1828.8,654.6 1830.4,648.6 1832.0,643.0 1833.7,642.5 1835.3,640.3 1836.9,640.0 1838.6,638.9 1840.2,635.9 1841.8,635.9 1843.5,632.4 1845.1,630.6 1846.7,630.0 1848.5,630.6 1850.2,630.6 1852.0,634.1 1853.8,639.4 1855.5,635.0 1857.3,637.3 1858.6,627.9 1860.0,626.1 1861.3,617.8 1862.7,625.2 1864.0,636.6 1865.4,640.6 1866.7,635.6 1867.9,629.2 1869.5,629.7 1871.1,625.5 1872.8,622.9 1874.4,624.3 1876.0,623.5 1877.6,632.0 1879.2,638.1 1880.5,634.1 1881.7,633.2 1882.8,630.2 1884.0,633.0"/>
<polyline fill="none" stroke="#000" stroke-width="2.4" stroke-linejoin="round" shape-rendering="crispEdges" points="89.0,1231.1 90.5,1227.2 92.1,1213.3 93.6,1211.3 95.1,1216.9 96.7,1219.8 98.2,1225.9 99.7,1228.1 101.2,1232.2 102.8,1237.9 104.3,1238.7 105.8,1229.6 107.3,1219.7 108.8,1211.3 110.7,1219.4 112.6,1226.4 114.5,1232.5 116.4,1240.3 118.2,1237.5 120.0,1236.5 121.9,1234.0 123.7,1229.8 125.5,1228.1 127.0,1230.6 128.6,1231.5 130.1,1239.8 131.6,1240.3 133.1,1229.8 134.7,1222.0 136.2,1209.8 137.7,1219.1 139.3,1230.0 140.8,1235.7 142.3,1226.6 143.8,1212.9 145.6,1219.2 147.4,1226.8 149.2,1229.0 150.9,1238.1 152.7,1239.8 154.5,1247.9 156.3,1245.1 158.0,1242.9 159.8,1238.3 161.6,1234.1 163.3,1230.2 165.1,1228.1 166.6,1219.0 168.2,1212.4 169.7,1202.2 171.2,1213.1 172.7,1220.9 174.2,1228.9 175.7,1240.3 177.6,1238.3 179.6,1232.0 181.5,1230.4 183.4,1228.1 184.9,1249.4 186.8,1240.7 188.7,1235.3 190.6,1227.0 192.5,1219.0 194.0,1223.9 195.6,1227.8 197.1,1230.5 198.6,1235.7 200.1,1229.7 201.6,1224.1 203.1,1215.1 204.6,1208.3 206.1,1217.9 207.7,1225.4 209.2,1234.2 210.7,1237.3 212.2,1238.2 213.8,1240.1 215.3,1240.3 216.8,1232.7 218.4,1226.5 219.9,1215.9 221.4,1216.4 222.9,1217.5 224.4,1219.0 225.9,1205.4 227.5,1194.5 229.0,1180.9 230.5,1192.2 232.0,1205.3 233.5,1202.4 235.1,1202.6 236.6,1201.3 238.1,1197.7 239.6,1202.7 241.1,1202.0 242.7,1208.8 244.2,1214.4 245.7,1202.9 247.2,1194.6 248.7,1188.2 250.2,1184.9 251.8,1183.7 253.3,1176.4 254.8,1181.0 256.4,1185.4 257.9,1191.6 259.4,1187.3 260.9,1181.1 262.5,1175.8 264.0,1170.3 265.5,1171.3 267.0,1174.4 268.5,1176.4 270.0,1164.9 271.6,1149.2 273.1,1139.9 274.6,1136.5 276.2,1139.5 277.7,1136.8 279.5,1130.2 281.3,1120.2 283.2,1111.6 285.0,1104.9 286.8,1097.3 288.3,1066.6 289.8,1039.5 291.3,1032.9 292.9,1029.8 294.4,1021.4 295.9,1015.1 297.4,1010.8 299.0,1003.0 300.5,964.6 302.0,926.9 303.5,921.4 305.0,914.7 306.5,902.6 308.1,884.3 309.6,872.1 311.1,857.4 312.7,843.5 314.2,829.5 316.0,817.8 317.8,805.2 319.1,820.7 320.5,832.6 321.8,844.8 323.3,824.3 324.8,808.3 326.4,850.4 327.9,893.4 329.4,863.0 330.9,883.0 332.4,905.6 333.9,937.7 335.5,972.5 337.0,990.8 338.5,1012.1 340.1,1025.7 341.6,1045.6 343.1,1068.8 344.6,1091.2 346.1,1081.0 347.6,1072.9 349.1,1084.8 350.7,1094.2 352.2,1097.8 353.8,1100.5 355.3,1103.2 356.8,1106.4 358.3,1122.3 359.8,1133.4 361.3,1149.0 362.9,1154.8 364.4,1162.7 365.9,1154.9 367.4,1150.5 368.9,1159.1 370.5,1163.3 372.0,1170.3 373.5,1172.8 375.0,1177.8 376.5,1182.5 378.2,1186.6 380.0,1183.2 381.4,1186.8 382.9,1192.1 384.3,1194.6 386.1,1196.4 387.9,1196.7 389.6,1196.8 391.4,1198.9 392.8,1218.9 394.2,1203.4 395.7,1188.9 397.1,1188.4 398.5,1185.6 399.9,1188.9 401.8,1203.7 403.7,1212.2 405.6,1221.7 407.1,1206.9 408.5,1191.8 409.9,1198.1 411.4,1203.9 412.8,1211.7 414.2,1206.7 415.6,1198.9 417.4,1201.5 419.1,1205.3 420.9,1205.4 422.7,1210.3 424.1,1209.9 425.6,1211.4 427.0,1207.5 428.6,1191.4 430.3,1177.4 431.9,1160.5 433.6,1178.1 435.3,1197.3 437.0,1213.2 438.4,1214.8 439.9,1213.3 441.3,1213.2 442.7,1204.3 444.1,1197.4 445.5,1188.9 446.9,1194.7 448.4,1199.4 449.8,1206.0 451.5,1206.2 453.1,1205.7 454.8,1203.3 456.5,1204.0 458.1,1208.0 459.8,1203.2 461.7,1199.2 463.6,1192.9 465.5,1187.5 466.9,1199.1 468.3,1203.2 469.7,1194.9 471.2,1184.3 472.6,1180.4 474.0,1183.7 475.5,1190.5 476.9,1198.9 478.8,1190.8 480.7,1183.3 482.6,1173.3 484.0,1174.8 485.4,1184.4 486.8,1187.5 488.6,1175.3 490.4,1167.2 492.2,1157.2 494.0,1146.2 495.9,1154.9 497.8,1162.3 499.7,1170.4 501.6,1164.5 503.5,1156.4 505.4,1151.9 506.8,1151.4 508.2,1151.5 509.6,1149.1 511.1,1124.8 512.5,1097.8 513.9,1100.3 515.3,1094.9 516.8,1073.0 518.2,1047.9 519.6,1053.3 521.0,1056.5 522.4,1046.6 523.9,1032.1 525.3,1019.4 526.7,989.9 528.2,961.0 529.6,936.8 531.5,919.7 533.4,899.7 535.3,879.8 536.7,881.1 538.1,879.3 539.5,879.8 541.2,856.8 543.0,832.8 544.1,837.8 545.2,837.1 546.7,849.0 548.1,859.9 549.5,863.9 551.0,870.7 552.4,877.0 553.8,897.6 555.2,914.0 556.6,925.7 558.1,936.7 559.5,953.9 560.9,971.8 562.3,996.6 563.7,1004.1 565.2,1016.8 566.6,1025.1 568.0,1027.1 569.5,1027.8 570.9,1030.8 572.3,1041.0 573.7,1055.0 574.9,1049.9 576.0,1045.1 577.6,1048.7 579.3,1051.9 580.9,1056.5 582.3,1067.5 583.7,1079.3 585.1,1083.9 586.6,1093.4 588.0,1096.4 589.8,1102.8 591.5,1116.5 593.3,1124.7 595.1,1136.2 596.5,1153.0 597.9,1167.6 599.3,1174.8 600.8,1183.3 602.2,1190.4 603.6,1191.2 605.1,1190.7 606.5,1190.4 607.9,1204.7 609.3,1216.0 610.7,1212.5 612.2,1214.6 613.6,1211.7 615.0,1217.1 616.5,1223.1 618.2,1223.7 619.9,1225.4 621.6,1224.8 623.3,1226.1 625.0,1223.1 626.4,1222.1 627.9,1226.5 629.3,1230.3 630.7,1225.3 632.1,1217.4 633.5,1228.6 635.0,1243.1 636.7,1239.5 638.3,1239.0 640.0,1234.4 641.7,1228.3 643.3,1227.1 645.0,1223.1 646.8,1226.2 648.5,1227.5 650.3,1229.4 652.1,1231.7 653.5,1224.3 655.0,1214.2 656.4,1208.9 657.8,1217.6 659.2,1224.5 660.6,1234.5 662.6,1233.5 664.5,1231.9 666.5,1228.4 668.5,1229.0 670.4,1227.0 672.4,1224.8 674.3,1224.4 676.3,1221.7 680.0,1259.8 682.0,1237.0 684.0,1233.9 686.0,1210.2 688.0,1226.3 690.0,1245.2 692.0,1243.7 694.0,1240.2 696.0,1243.1 698.0,1226.6 700.0,1257.6 702.0,1227.8 704.0,1231.4 706.0,1256.7 708.0,1244.9 710.0,1254.3 712.0,1244.8 714.0,1242.9 716.0,1226.0 718.0,1233.0 720.0,1243.0 722.0,1234.5 724.0,1230.2 726.0,1250.8 728.0,1246.2 730.0,1253.6 732.0,1250.8 734.0,1244.4 736.0,1250.1 738.0,1247.5 740.0,1263.6 742.0,1261.3 744.0,1245.5 746.0,1245.5 748.0,1248.8 750.0,1258.7 752.0,1251.7 754.0,1254.3 756.0,1239.4 758.0,1256.6 760.0,1244.3 762.0,1259.7 764.0,1256.1 766.0,1230.3 768.0,1243.5 770.0,1232.5 772.0,1244.3 774.0,1250.6 776.0,1248.7 778.0,1257.2 780.0,1244.4 782.0,1258.3 784.0,1259.8 786.0,1260.1 788.0,1236.0 790.0,1243.1 792.0,1246.6 794.0,1242.0 796.0,1236.8 798.0,1248.2 800.0,1237.6 802.0,1239.3 804.0,1245.1 806.0,1254.6 808.0,1249.4 810.0,1241.0 812.0,1225.4 814.0,1222.7 816.0,1226.9 818.0,1233.2 820.0,1241.4 822.0,1242.2 824.0,1242.3 826.0,1249.5 828.0,1243.0 830.0,1254.4 832.0,1256.1 834.0,1248.9 836.0,1262.8 838.0,1242.8 840.0,1245.4 842.0,1243.3 844.0,1245.8 846.0,1234.1 848.0,1249.1 850.0,1235.5 852.0,1236.7 854.0,1236.9 856.0,1247.9 858.0,1237.5 860.0,1239.4 862.0,1224.9 864.0,1228.5 866.0,1221.2 868.0,1238.0 870.0,1234.2 872.0,1239.6 874.0,1240.6 876.0,1249.5 878.0,1247.7 880.0,1252.6 882.0,1227.6 884.0,1229.0 886.0,1223.1 888.0,1234.9 890.0,1233.8 892.0,1238.7 894.0,1223.5 896.0,1220.5 898.0,1212.5 900.0,1235.5 902.0,1233.0 904.0,1235.6 906.0,1244.5 908.0,1238.4 910.0,1225.5 912.0,1238.4 914.0,1231.3 916.0,1257.0 918.0,1254.1 920.0,1261.8 922.0,1261.4 924.0,1249.7 926.0,1243.5 928.0,1221.8 930.0,1221.0 932.0,1241.5 934.0,1248.0 936.0,1239.2 938.0,1233.8 940.0,1235.7 942.0,1244.1 944.0,1232.8 946.0,1230.3 948.0,1237.4 950.0,1230.9 952.0,1218.9 954.0,1222.3 956.0,1223.5 958.0,1239.0 960.0,1236.3 962.0,1230.2 964.0,1234.1 966.0,1234.7 968.0,1227.9 970.0,1233.7 972.0,1225.9 974.0,1228.4 976.0,1241.7 978.0,1246.3 980.0,1231.0 982.0,1244.1 984.0,1218.4 986.0,1219.9 988.0,1225.6 990.0,1239.5 992.0,1246.0 994.0,1226.9 996.0,1228.5 998.0,1223.3 1000.0,1225.9 1002.0,1253.2 1004.0,1267.7 1006.0,1248.4 1008.0,1257.3 1010.0,1253.3 1012.0,1256.0 1014.0,1255.3 1016.0,1252.6 1018.0,1235.7 1020.0,1237.1 1022.0,1239.3 1024.0,1239.6 1026.0,1211.0 1028.0,1224.8 1030.0,1223.3 1032.0,1238.8 1034.0,1234.6 1036.0,1231.2 1038.0,1217.8 1040.0,1217.0 1042.0,1223.2 1044.0,1240.2 1046.0,1234.1 1048.0,1235.7 1050.0,1224.0 1052.0,1235.7 1054.0,1233.8 1056.0,1234.9 1058.0,1250.0 1060.0,1234.5 1062.0,1243.1 1064.0,1239.9 1066.0,1258.7 1068.0,1257.0 1070.0,1243.7 1072.0,1235.0 1074.0,1231.5 1076.0,1249.1 1078.0,1257.2 1080.0,1248.4 1082.0,1259.8 1084.0,1239.8 1086.0,1221.1 1088.0,1224.3 1090.0,1241.0 1092.0,1253.4 1094.0,1245.7 1096.0,1243.1 1098.0,1258.5 1100.0,1246.6 1102.0,1255.1 1104.0,1261.9 1106.0,1250.5 1108.0,1248.0 1110.0,1240.4 1112.0,1243.1 1114.0,1249.9 1116.0,1234.3 1118.0,1236.6 1120.0,1255.1 1122.0,1255.0 1124.0,1254.4 1126.0,1254.9 1128.0,1254.8 1130.0,1250.6 1132.0,1232.1 1134.0,1240.0 1136.0,1237.7 1138.0,1233.0 1140.0,1242.7 1142.0,1238.0 1144.0,1238.8 1146.0,1237.6 1148.0,1233.0 1150.0,1237.8 1152.0,1230.5 1154.0,1225.9 1156.0,1221.3 1158.0,1240.5 1160.0,1243.5 1162.0,1254.6 1164.0,1258.3 1166.0,1249.9 1168.0,1244.3 1170.0,1255.7 1172.0,1221.9 1174.0,1224.9 1176.0,1225.5 1178.0,1233.7 1180.0,1222.5 1182.0,1230.9 1184.0,1233.2 1186.0,1248.3 1188.0,1247.4 1190.0,1247.3 1192.0,1240.8 1194.0,1249.4 1196.0,1236.3 1198.0,1232.2 1200.0,1223.5 1202.0,1241.7 1204.0,1234.2 1206.0,1246.1 1208.0,1228.8 1210.0,1221.0 1212.0,1220.2 1214.0,1233.1 1216.0,1235.8 1218.0,1224.8 1220.0,1220.5 1222.0,1219.0 1224.0,1229.5 1226.0,1235.9 1228.0,1232.7 1230.0,1228.9 1232.0,1225.3 1234.0,1230.5 1236.0,1253.0 1238.0,1247.2 1240.0,1227.0 1242.0,1228.7 1244.0,1222.4 1246.0,1220.8 1248.0,1226.8 1250.0,1239.8 1252.0,1236.1 1254.0,1231.6 1256.0,1234.4 1258.0,1229.5 1260.0,1237.3 1262.0,1241.9 1264.0,1251.8 1266.0,1239.2 1268.0,1242.5 1270.0,1234.7 1272.0,1205.7 1274.0,1221.2 1276.0,1224.8 1278.0,1234.3 1280.0,1235.5 1282.0,1238.7 1284.0,1205.0 1286.0,1219.1 1288.0,1207.9 1290.0,1211.2 1292.0,1222.6 1294.0,1220.4 1296.0,1243.6 1298.0,1212.4 1300.0,1217.4 1302.0,1200.5 1304.0,1215.6 1306.0,1217.1 1308.0,1208.4 1310.0,1201.5 1312.0,1209.2 1314.0,1223.3 1316.0,1218.7 1318.0,1213.0 1320.0,1198.0 1322.0,1229.7 1324.0,1230.0 1326.0,1237.7 1328.0,1226.2 1330.0,1221.6 1332.0,1221.8 1334.0,1202.1 1336.0,1207.1 1338.0,1222.3 1340.0,1205.4 1342.0,1201.1 1344.0,1199.2 1346.0,1202.7 1348.0,1215.2 1350.0,1212.4 1352.0,1206.4 1354.0,1202.2 1356.0,1198.0 1358.0,1185.1 1360.0,1183.6 1362.0,1206.5 1364.0,1203.5 1366.0,1201.5 1368.0,1211.1 1370.0,1213.1 1372.0,1198.9 1374.0,1188.6 1376.0,1176.2 1378.0,1179.5 1380.0,1180.7 1382.0,1194.3 1384.0,1200.6 1386.0,1178.5 1388.0,1188.9 1390.0,1199.8 1392.0,1218.6 1394.0,1187.7 1396.0,1196.7 1398.0,1194.7 1400.0,1201.6 1402.0,1196.0 1404.0,1190.5 1406.0,1175.9 1408.0,1164.4 1410.0,1181.6 1412.0,1185.3 1414.0,1189.4 1416.0,1188.0 1418.0,1190.2 1420.0,1190.2 1422.0,1189.8 1424.0,1167.7 1426.0,1165.8 1428.0,1184.2 1430.0,1189.6 1432.0,1179.0 1434.0,1174.0 1436.0,1175.0 1438.0,1174.7 1440.0,1183.6 1442.0,1190.7 1444.0,1184.4 1446.0,1181.8 1448.0,1181.3 1450.0,1202.4 1452.0,1198.2 1454.0,1199.4 1456.0,1183.6 1458.0,1190.0 1460.0,1203.8 1462.0,1188.6 1464.0,1202.4 1466.0,1204.9 1468.0,1197.6 1470.0,1192.7 1472.0,1190.7 1474.0,1181.1 1476.0,1191.9 1478.0,1178.5 1480.0,1178.4 1482.0,1179.2 1484.0,1186.4 1486.0,1185.1 1488.0,1191.6 1490.0,1188.7 1492.0,1197.7 1494.0,1192.0 1496.0,1185.0 1498.0,1184.0 1500.0,1168.0 1502.0,1176.0 1504.0,1176.1 1506.0,1196.8 1508.0,1188.0 1510.0,1185.6 1512.0,1184.3 1514.0,1182.0 1516.0,1191.7 1518.0,1157.1 1520.0,1170.9 1522.0,1161.0 1524.0,1180.7 1526.0,1167.3 1528.0,1174.7 1530.0,1171.5 1532.0,1185.1 1534.0,1173.5 1536.0,1194.0 1538.0,1193.1 1540.0,1168.9 1542.0,1176.6 1544.0,1187.6 1546.0,1178.5 1548.0,1175.3 1550.0,1176.4 1552.0,1177.3 1554.0,1176.0 1556.0,1172.6 1558.0,1160.0 1560.0,1154.1 1562.0,1157.1 1564.0,1150.7 1566.0,1161.7 1570.0,1150.0 1571.8,1114.0 1573.3,1119.1 1574.8,1127.1 1576.3,1135.7 1577.7,1119.1 1579.1,1101.3 1580.9,1101.3 1582.7,1112.3 1584.5,1124.9 1586.3,1109.3 1588.1,1092.2 1589.9,1077.7 1591.3,1086.2 1592.7,1092.2 1594.2,1079.2 1595.7,1072.0 1597.2,1059.6 1598.6,1063.3 1599.9,1068.7 1601.2,1051.9 1602.6,1028.8 1604.4,1025.3 1606.3,1019.7 1608.1,1001.6 1609.9,1012.5 1611.7,991.7 1613.5,972.6 1615.0,978.3 1616.5,983.8 1618.0,988.9 1619.8,979.1 1621.7,970.5 1623.5,958.1 1625.3,968.8 1627.1,978.0 1628.9,963.7 1630.7,944.5 1632.5,951.8 1634.4,956.9 1636.2,963.5 1637.6,947.6 1638.9,936.3 1640.7,981.6 1642.1,970.2 1643.4,963.5 1645.2,983.5 1646.7,996.5 1648.3,1009.9 1649.8,1021.5 1651.6,1010.6 1653.4,1046.9 1654.8,1045.5 1656.1,1039.7 1657.4,1044.2 1658.8,1050.5 1660.2,1047.0 1661.6,1043.3 1662.9,1052.9 1664.3,1065.0 1666.1,1063.5 1667.9,1063.2 1669.2,1075.2 1670.6,1094.0 1672.4,1113.3 1674.2,1130.3 1676.1,1097.7 1677.4,1105.7 1678.8,1115.8 1680.6,1120.5 1682.4,1126.1 1684.2,1130.3 1685.7,1130.2 1687.2,1127.1 1688.7,1128.5 1690.6,1139.8 1692.4,1146.6 1694.0,1145.5 1695.6,1142.9 1697.1,1138.9 1698.7,1137.6 1700.2,1143.6 1701.7,1152.0 1703.2,1162.9 1704.6,1154.0 1706.0,1145.7 1707.8,1145.7 1709.6,1144.2 1711.4,1147.8 1713.2,1144.8 1715.0,1159.8 1716.8,1173.8 1718.4,1177.6 1720.0,1179.7 1721.6,1179.0 1723.2,1182.9 1724.7,1175.9 1726.2,1166.6 1727.7,1157.5 1729.2,1163.5 1730.8,1174.3 1732.3,1181.1 1734.1,1178.0 1735.9,1173.1 1737.7,1168.5 1739.5,1160.1 1741.3,1157.5 1743.0,1160.4 1744.6,1163.3 1746.3,1167.5 1748.0,1170.9 1749.6,1175.8 1751.3,1177.4 1753.1,1176.4 1754.9,1171.8 1756.8,1172.3 1758.6,1171.2 1760.4,1166.6 1762.2,1160.4 1764.0,1151.0 1765.8,1146.6 1767.6,1157.4 1769.4,1170.2 1771.0,1172.5 1772.7,1172.8 1774.3,1177.6 1776.0,1178.5 1777.6,1182.9 1778.9,1167.7 1780.3,1150.2 1782.1,1157.1 1783.9,1161.9 1785.7,1166.0 1787.5,1173.8 1789.3,1172.0 1791.2,1168.3 1793.0,1165.9 1794.8,1164.7 1796.4,1162.6 1798.1,1156.0 1799.7,1151.2 1801.4,1150.7 1803.0,1145.7 1805.0,1151.8 1807.0,1155.0 1808.9,1157.2 1810.9,1162.6 1812.9,1162.9 1814.5,1158.7 1816.2,1158.9 1817.8,1155.2 1819.5,1147.9 1821.1,1144.8 1822.7,1148.1 1824.2,1148.3 1825.8,1151.4 1827.4,1155.7 1829.2,1148.8 1831.1,1138.6 1832.9,1132.9 1834.7,1124.9 1836.5,1130.4 1838.3,1134.8 1840.1,1139.4 1841.6,1151.1 1843.2,1162.9 1844.7,1170.2 1846.3,1159.3 1847.9,1149.3 1849.6,1138.8 1851.2,1124.6 1852.8,1114.0 1854.6,1135.7 1856.4,1159.3 1857.9,1143.0 1859.5,1134.6 1861.0,1121.2 1862.6,1133.0 1864.2,1142.2 1865.9,1154.9 1867.5,1164.2 1869.1,1172.0 1870.6,1158.8 1872.2,1143.0 1873.7,1128.5 1875.2,1130.3 1876.7,1134.8 1878.2,1137.6 1879.6,1149.2 1880.9,1159.3 1882.7,1148.4 1884.0,1150.0"/>
<text id="b1353" x="90" y="193" fill="#0000ff" stroke="#0000ff" font-size="48.3">1353.8 cm<tspan font-size="27.5" dy="-23.7">-1</tspan></text>
<text id="b1593" x="322" y="98" fill="#0000ff" stroke="#0000ff" font-size="48.3">1593.8 cm<tspan font-size="27.5" dy="-23.7">-1</tspan></text>
<text id="b2741" x="1646" y="149" fill="#0000ff" stroke="#0000ff" font-size="48.3">2741.9 cm<tspan font-size="27.5" dy="-23.7">-1</tspan></text>
<text id="bratio" x="648" y="276" fill="#0000ff" stroke="#0000ff" font-size="67" letter-spacing="-0.35"><tspan font-style="italic">I</tspan><tspan font-size="36.2">D</tspan>/<tspan font-style="italic">I</tspan><tspan font-size="36.2">G</tspan> = 0.79</text>
<text id="bname" x="1040" y="270.5" fill="#0000ff" stroke="#0000ff" font-size="66.5" letter-spacing="0">HZ20S6C pellet</text>
<text id="r1350" x="86" y="504" fill="#ff0000" stroke="#ff0000" font-size="48.3">1350.2 cm<tspan font-size="27.5" dy="-23.7">-1</tspan></text>
<text id="r1588" x="344" y="408" fill="#ff0000" stroke="#ff0000" font-size="48.3">1588.7 cm<tspan font-size="27.5" dy="-23.7">-1</tspan></text>
<text id="r2735" x="1639" y="502" fill="#ff0000" stroke="#ff0000" font-size="48.3">2735.7 cm<tspan font-size="27.5" dy="-23.7">-1</tspan></text>
<text id="rratio" x="636" y="694" fill="#ff0000" stroke="#ff0000" font-size="67" letter-spacing="-0.7"><tspan font-style="italic">I</tspan><tspan font-size="36.2">D</tspan>/<tspan font-style="italic">I</tspan><tspan font-size="36.2">G</tspan> = 1.01</text>
<text id="rname" x="999" y="678" fill="#ff0000" stroke="#ff0000" font-size="67" letter-spacing="-0.46">HZ20S6C powder</text>
<text id="k1347" x="82" y="858" fill="#000000" stroke="#000000" font-size="48.3">1347.0 cm<tspan font-size="27.5" dy="-23.7">-1</tspan></text>
<text id="k1585" x="342" y="822" fill="#000000" stroke="#000000" font-size="48.3">1585.6 cm<tspan font-size="27.5" dy="-23.7">-1</tspan></text>
<text id="k2732" x="1646" y="941" fill="#000000" stroke="#000000" font-size="48.3">2732.4 cm<tspan font-size="27.5" dy="-23.7">-1</tspan></text>
<text id="kratio" x="658" y="1189" fill="#000000" stroke="#000000" font-size="67" letter-spacing="-0.46"><tspan font-style="italic">I</tspan><tspan font-size="36.2">D</tspan>/<tspan font-style="italic">I</tspan><tspan font-size="36.2">G</tspan> = 1.06</text>
<text id="kname" x="979" y="1203" fill="#000000" stroke="#000000" font-size="66.5" letter-spacing="-0.25">Pristine CNT</text>
<text id="pD" x="122.4" y="1320.5" fill="#000" stroke="#000" font-size="67" letter-spacing="-0.55"><tspan font-style="italic">D</tspan>-peak</text>
<text id="pG" x="345.2" y="1317" fill="#000" stroke="#000" font-size="67" letter-spacing="-0.3"><tspan font-style="italic">G</tspan>-peak</text>
<text id="pD2" x="585" y="1316.5" fill="#000" stroke="#000" font-size="67" letter-spacing="-0.4"><tspan font-style="italic">D′</tspan>-peak</text>
<text id="pG2" x="1651" y="1311" fill="#000" stroke="#000" font-size="67" letter-spacing="-0.35"><tspan font-style="italic">G′</tspan>-peak</text>
<rect x="86" y="16" width="1800" height="1332" fill="none" stroke="#000" stroke-width="6"/>
<line x1="180.7" y1="1348" x2="180.7" y2="1373" stroke="#000" stroke-width="6"/>
<line x1="464.9" y1="1348" x2="464.9" y2="1373" stroke="#000" stroke-width="6"/>
<line x1="749.2" y1="1348" x2="749.2" y2="1373" stroke="#000" stroke-width="6"/>
<line x1="1033.4" y1="1348" x2="1033.4" y2="1373" stroke="#000" stroke-width="6"/>
<line x1="1317.6" y1="1348" x2="1317.6" y2="1373" stroke="#000" stroke-width="6"/>
<line x1="1601.8" y1="1348" x2="1601.8" y2="1373" stroke="#000" stroke-width="6"/>
<line x1="1886.0" y1="1348" x2="1886.0" y2="1373" stroke="#000" stroke-width="6"/>
<line x1="322.8" y1="1348" x2="322.8" y2="1361" stroke="#000" stroke-width="6"/>
<line x1="607.1" y1="1348" x2="607.1" y2="1361" stroke="#000" stroke-width="6"/>
<line x1="891.3" y1="1348" x2="891.3" y2="1361" stroke="#000" stroke-width="6"/>
<line x1="1175.5" y1="1348" x2="1175.5" y2="1361" stroke="#000" stroke-width="6"/>
<line x1="1459.7" y1="1348" x2="1459.7" y2="1361" stroke="#000" stroke-width="6"/>
<line x1="1743.9" y1="1348" x2="1743.9" y2="1361" stroke="#000" stroke-width="6"/>
<text id="t1200" x="180.7" y="1441" font-size="67" stroke="#000" text-anchor="middle">1200</text>
<text id="t1500" x="464.9" y="1441" font-size="67" stroke="#000" text-anchor="middle">1500</text>
<text id="t1800" x="749.2" y="1441" font-size="67" stroke="#000" text-anchor="middle">1800</text>
<text id="t2100" x="1033.4" y="1441" font-size="67" stroke="#000" text-anchor="middle">2100</text>
<text id="t2400" x="1317.6" y="1441" font-size="67" stroke="#000" text-anchor="middle">2400</text>
<text id="t2700" x="1601.8" y="1441" font-size="67" stroke="#000" text-anchor="middle">2700</text>
<text id="t3000" x="1886.0" y="1441" font-size="67" stroke="#000" text-anchor="middle">3000</text>
<text id="xtitle" x="750" y="1521" font-size="66" font-weight="bold" stroke="#000">Raman shift (cm<tspan font-size="40.9" dy="-33.0">-1</tspan><tspan dy="33.0">)</tspan></text>
<text id="ytitle" transform="translate(60,904) rotate(-90)" font-size="66" font-weight="bold" stroke="#000">Intensity (a.u.)</text>
</svg>
</body></html>
